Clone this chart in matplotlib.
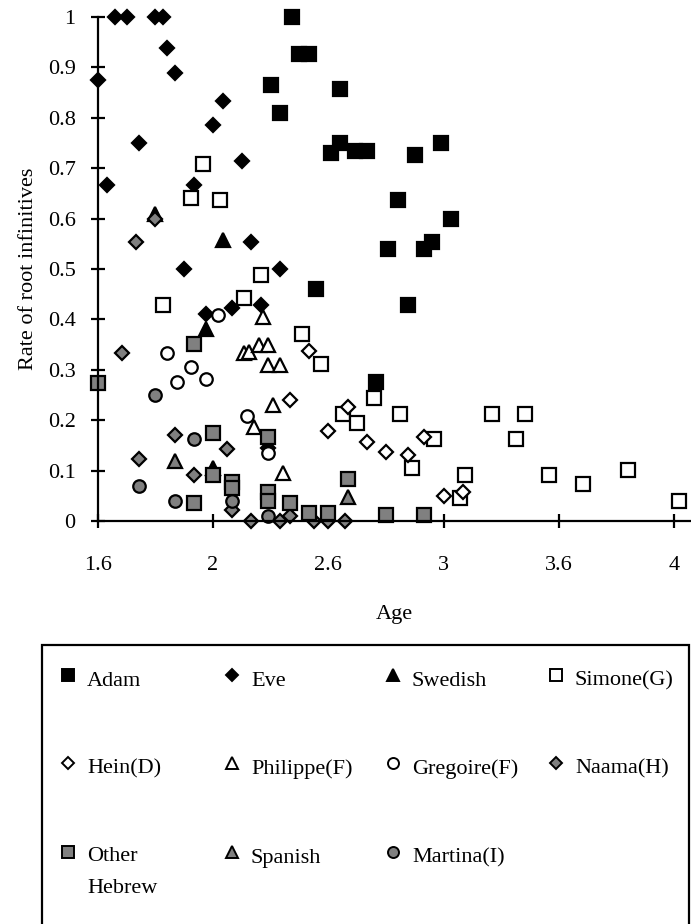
import matplotlib
matplotlib.use("Agg")
from matplotlib import pyplot as plt
from matplotlib.patches import Rectangle
from matplotlib.lines import Line2D

plt.rcParams['font.family'] = ['Liberation Serif', 'DejaVu Serif']

# data (x axis: 5 equal steps from 1.6 to 4.0)
adam_x = [2.41, 2.44, 2.48, 2.32, 2.61, 2.36, 2.61, 2.57, 2.67, 2.72, 3.03, 2.92, 2.85, 3.07, 2.81, 2.96, 2.99, 2.51, 2.89, 2.76]
adam_y = [1.0, 0.926, 0.926, 0.865, 0.857, 0.809, 0.75, 0.73, 0.735, 0.735, 0.75, 0.727, 0.637, 0.6, 0.54, 0.54, 0.554, 0.461, 0.429, 0.275]

eve_x = [1.67, 1.72, 1.84, 1.87, 1.89, 1.92, 1.60, 2.12, 2.08, 1.77, 2.20, 1.64, 2.00, 2.24, 1.96, 2.36, 2.16, 2.05, 2.28, 2.31]
eve_y = [1.0, 1.0, 1.0, 1.0, 0.938, 0.889, 0.875, 0.833, 0.786, 0.75, 0.714, 0.667, 0.667, 0.554, 0.5, 0.5, 0.423, 0.41, 0.429, 0.145]

swedish_x = [1.84, 2.12, 2.05, 2.08]
swedish_y = [0.61, 0.558, 0.38, 0.105]

simone_x = [2.04, 1.99, 2.11, 2.28, 1.87, 2.21, 2.45, 2.53, 2.75, 2.62, 2.68, 2.86, 3.00, 2.91, 3.13, 3.11, 3.24, 3.38, 3.34, 3.48, 3.62, 3.81, 4.02]
simone_y = [0.708, 0.641, 0.637, 0.488, 0.429, 0.442, 0.371, 0.311, 0.245, 0.212, 0.194, 0.212, 0.162, 0.106, 0.091, 0.045, 0.212, 0.212, 0.162, 0.091, 0.073, 0.101, 0.04]

hein_x = [2.48, 2.40, 2.64, 2.56, 2.72, 2.80, 2.89, 2.96, 3.04, 3.12]
hein_y = [0.338, 0.24, 0.227, 0.179, 0.157, 0.137, 0.13, 0.166, 0.05, 0.058]

philippe_x = [2.21, 2.23, 2.27, 2.31, 2.29, 2.31, 2.36, 2.33, 2.25, 2.37]
philippe_y = [0.333, 0.335, 0.349, 0.349, 0.405, 0.31, 0.31, 0.23, 0.187, 0.095]

gregoire_x = [2.10, 1.89, 1.99, 1.93, 2.05, 2.22, 2.31]
gregoire_y = [0.409, 0.333, 0.306, 0.276, 0.282, 0.208, 0.134]

naama_x = [1.84, 1.76, 1.70, 1.92, 1.77, 2.14, 2.00, 2.16, 2.24, 2.36, 2.40, 2.50, 2.56, 2.63]
naama_y = [0.599, 0.554, 0.333, 0.171, 0.123, 0.143, 0.091, 0.022, 0.0, 0.0, 0.009, 0.0, 0.0, 0.0]

hebrew_x = [1.60, 2.00, 2.08, 2.31, 2.08, 2.16, 2.16, 2.00, 2.31, 2.31, 2.64, 2.40, 2.48, 2.56, 2.80, 2.96]
hebrew_y = [0.273, 0.351, 0.175, 0.167, 0.091, 0.078, 0.065, 0.035, 0.058, 0.04, 0.083, 0.036, 0.016, 0.016, 0.012, 0.012]

spanish_x = [1.92, 2.64]
spanish_y = [0.119, 0.048]

martina_x = [1.84, 2.00, 1.77, 1.92, 2.16, 2.31]
martina_y = [0.25, 0.162, 0.069, 0.04, 0.04, 0.009]

x_ticks = [1.6, 2.08, 2.56, 3.04, 3.52, 4.0]
x_tick_labels = ['1.6', '2', '2.6', '3', '3.6', '4']
y_ticks = [0, 0.1, 0.2, 0.3, 0.4, 0.5, 0.6, 0.7, 0.8, 0.9, 1.0]
y_tick_labels = ['0', '0.1', '0.2', '0.3', '0.4', '0.5', '0.6', '0.7', '0.8', '0.9', '1']

grey = '#808080'
# name, x, y, marker, face colour, marker size
series = [
    ('Adam', adam_x, adam_y, 's', 'black', 9.5),
    ('Eve', eve_x, eve_y, 'D', 'black', 7.5),
    ('Swedish', swedish_x, swedish_y, '^', 'black', 10.5),
    ('Simone(G)', simone_x, simone_y, 's', 'white', 9.5),
    ('Hein(D)', hein_x, hein_y, 'D', 'white', 7.5),
    ('Philippe(F)', philippe_x, philippe_y, '^', 'white', 10.5),
    ('Gregoire(F)', gregoire_x, gregoire_y, 'o', 'white', 9.0),
    ('Naama(H)', naama_x, naama_y, 'D', grey, 7.5),
    ('Other\nHebrew', hebrew_x, hebrew_y, 's', grey, 9.5),
    ('Spanish', spanish_x, spanish_y, '^', grey, 10.5),
    ('Martina(I)', martina_x, martina_y, 'o', grey, 9.0),
]

W, H = 691, 924
fig = plt.figure(figsize=(W / 100, H / 100), dpi=100)
ax = fig.add_axes([97.8 / W, (H - 521) / H, (W - 97.8) / W, (521 - 17) / H])

for name, xs, ys, mk, fc, ms in series:
    ax.plot(xs, ys, linestyle='none', marker=mk, markersize=ms,
            markerfacecolor=fc, markeredgecolor='black', markeredgewidth=1.6,
            clip_on=False)

ax.set_xlim(1.6, 1.6 + (W - 97.8) / 240.1)
ax.set_ylim(0, 1.0)
ax.set_xticks(x_ticks)
ax.set_xticklabels(x_tick_labels)
ax.set_yticks(y_ticks)
ax.set_yticklabels(y_tick_labels)
for s in ['top', 'right']:
    ax.spines[s].set_visible(False)
for s in ['left', 'bottom']:
    ax.spines[s].set_linewidth(1.6)
ax.tick_params(axis='both', direction='inout', length=10, width=1.6, labelsize=16)
ax.tick_params(axis='x', pad=20)
ax.tick_params(axis='y', pad=11)
ax.set_xlabel('Age', fontsize=16, labelpad=22)
ax.set_ylabel('Rate of root infinitives', fontsize=16, labelpad=7)

# legend box drawn by hand, row by row like the original
fig.patches.append(Rectangle((42 / W, -0.05), (689 - 42) / W, (H - 645) / H + 0.05,
                             transform=fig.transFigure, fill=False,
                             edgecolor='black', linewidth=1.6))
col_mark = [68, 232, 393, 556]
col_text = [87, 251, 412, 575]
row_y = [681, 769, 858]
for i, (name, xs, ys, mk, fc, ms) in enumerate(series):
    r, c = divmod(i, 4)
    fig.lines.append(Line2D([col_mark[c] / W], [1 - (row_y[r] - 6) / H],
                            transform=fig.transFigure, marker=mk,
                            markersize=ms * 0.88, markerfacecolor=fc,
                            markeredgecolor='black', markeredgewidth=1.4))
    if '\n' in name:
        fig.text(col_text[c] / W, 1 - (row_y[r] - 11) / H, name, fontsize=16,
                 va='top', ha='left', linespacing=1.9)
    else:
        fig.text(col_text[c] / W, 1 - row_y[r] / H, name, fontsize=16,
                 va='center', ha='left')

fig.savefig('out.png', dpi=100)
